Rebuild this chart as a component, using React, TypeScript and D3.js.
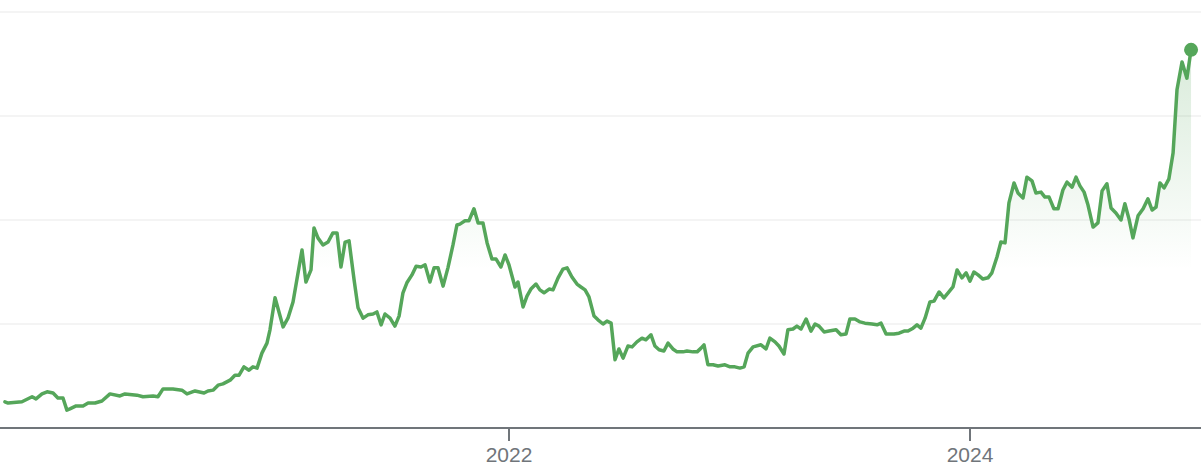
import React, { useEffect, useRef } from 'react';
import * as d3 from 'd3';

// x positions as decimal years (grid = 25 units)
const times = [
  2019.813, 2019.827, 2019.887, 2019.931, 2019.948, 2019.974, 2019.996, 2020.022, 2020.043, 2020.065,
  2020.082, 2020.095, 2020.122, 2020.152, 2020.174, 2020.204, 2020.234, 2020.269, 2020.312, 2020.334,
  2020.386, 2020.412, 2020.456, 2020.477, 2020.499, 2020.542, 2020.581, 2020.603, 2020.638, 2020.677,
  2020.694, 2020.716, 2020.738, 2020.759, 2020.790, 2020.811, 2020.829, 2020.850, 2020.872, 2020.889,
  2020.907, 2020.928, 2020.950, 2020.963, 2020.985, 2021.020, 2021.041, 2021.063, 2021.102, 2021.119,
  2021.141, 2021.154, 2021.171, 2021.193, 2021.215, 2021.236, 2021.254, 2021.271, 2021.289, 2021.306,
  2021.328, 2021.345, 2021.367, 2021.388, 2021.410, 2021.427, 2021.445, 2021.462, 2021.484, 2021.505,
  2021.523, 2021.540, 2021.557, 2021.579, 2021.597, 2021.618, 2021.636, 2021.657, 2021.675, 2021.692,
  2021.714, 2021.735, 2021.757, 2021.774, 2021.787, 2021.809, 2021.826, 2021.848, 2021.866, 2021.887,
  2021.905, 2021.926, 2021.944, 2021.965, 2021.983, 2022.000, 2022.026, 2022.039, 2022.061, 2022.078,
  2022.095, 2022.117, 2022.134, 2022.152, 2022.174, 2022.191, 2022.213, 2022.234, 2022.252, 2022.273,
  2022.295, 2022.312, 2022.330, 2022.347, 2022.369, 2022.386, 2022.408, 2022.425, 2022.443, 2022.460,
  2022.477, 2022.495, 2022.516, 2022.534, 2022.555, 2022.577, 2022.594, 2022.616, 2022.633, 2022.651,
  2022.672, 2022.690, 2022.711, 2022.729, 2022.755, 2022.772, 2022.798, 2022.816, 2022.833, 2022.846,
  2022.863, 2022.885, 2022.907, 2022.937, 2022.959, 2022.980, 2023.002, 2023.020, 2023.037, 2023.059,
  2023.093, 2023.115, 2023.132, 2023.154, 2023.171, 2023.193, 2023.210, 2023.232, 2023.249, 2023.267,
  2023.289, 2023.310, 2023.328, 2023.345, 2023.367, 2023.388, 2023.419, 2023.440, 2023.462, 2023.479,
  2023.501, 2023.523, 2023.544, 2023.575, 2023.597, 2023.614, 2023.636, 2023.670, 2023.692, 2023.714,
  2023.731, 2023.753, 2023.770, 2023.787, 2023.805, 2023.826, 2023.844, 2023.866, 2023.887, 2023.905,
  2023.926, 2023.944, 2023.965, 2023.983, 2024.000, 2024.017, 2024.035, 2024.056, 2024.078, 2024.095,
  2024.117, 2024.134, 2024.152, 2024.169, 2024.191, 2024.208, 2024.230, 2024.247, 2024.269, 2024.286,
  2024.308, 2024.325, 2024.343, 2024.364, 2024.382, 2024.403, 2024.421, 2024.443, 2024.460, 2024.477,
  2024.495, 2024.512, 2024.534, 2024.555, 2024.573, 2024.594, 2024.612, 2024.633, 2024.655, 2024.672,
  2024.690, 2024.707, 2024.729, 2024.751, 2024.772, 2024.790, 2024.807, 2024.824, 2024.842, 2024.863,
  2024.881, 2024.898, 2024.920, 2024.941, 2024.959,
];

const closes = [
  6.3, 6.0, 6.3, 7.5, 7.0, 8.2, 8.7, 8.4, 7.2, 7.2,
  4.3, 4.6, 5.3, 5.3, 6.0, 6.0, 6.5, 8.2, 7.7, 8.2,
  7.9, 7.5, 7.7, 7.5, 9.4, 9.4, 9.1, 8.2, 8.9, 8.4,
  8.9, 9.1, 10.3, 10.6, 11.5, 12.7, 12.7, 14.7, 13.9, 14.7,
  14.4, 18.0, 20.4, 23.6, 31.3, 24.3, 26.4, 30.3, 42.8, 35.1,
  38.0, 48.1, 45.7, 44.0, 44.7, 46.9, 46.9, 38.7, 44.7, 45.0,
  35.6, 28.9, 26.4, 27.2, 27.4, 27.9, 24.8, 27.4, 26.4, 24.5,
  26.9, 32.5, 34.9, 36.8, 38.9, 38.7, 39.2, 35.1, 38.5, 38.5,
  34.1, 38.5, 44.0, 48.8, 49.0, 49.8, 49.8, 52.7, 49.3, 49.3,
  44.5, 40.6, 40.6, 38.7, 41.6, 39.2, 33.9, 35.1, 29.1, 31.7,
  33.4, 34.6, 33.2, 32.5, 33.4, 33.2, 36.1, 38.2, 38.5, 36.3,
  34.6, 33.9, 33.2, 31.5, 26.9, 26.0, 25.0, 25.7, 25.2, 16.4,
  19.0, 16.8, 19.7, 19.5, 20.7, 21.6, 21.2, 22.4, 19.7, 18.8,
  18.5, 20.4, 19.0, 18.3, 18.3, 18.5, 18.3, 18.3, 19.2, 20.0,
  15.2, 15.2, 14.9, 15.2, 14.7, 14.7, 14.4, 14.7, 18.0, 19.5,
  20.0, 19.0, 21.6, 20.7, 19.7, 17.8, 23.6, 23.8, 24.5, 23.8,
  26.2, 23.3, 25.0, 24.5, 23.1, 23.3, 23.6, 22.4, 22.6, 26.2,
  26.2, 25.5, 25.2, 25.0, 24.8, 25.2, 22.6, 22.6, 22.8, 23.3,
  23.3, 24.0, 24.8, 24.0, 26.4, 30.3, 30.5, 32.7, 31.3, 32.5,
  33.9, 38.0, 36.1, 37.3, 35.3, 37.5, 36.8, 35.8, 36.1, 37.3,
  41.1, 44.7, 44.5, 54.1, 58.9, 56.5, 55.3, 60.3, 59.4, 56.5,
  56.7, 55.5, 55.5, 52.7, 52.7, 57.2, 59.1, 57.9, 60.3, 58.2,
  56.7, 53.6, 48.3, 49.3, 57.0, 58.7, 52.9, 51.7, 50.0, 53.9,
  50.2, 45.7, 51.0, 52.7, 55.1, 52.4, 53.1, 58.9, 57.7, 59.9,
  66.1, 81.3, 88.0, 84.1, 90.9,
];

const gridValues = [25, 50, 75, 100];
const yearTicks = [2022, 2024];

const WIDTH = 1204;
const HEIGHT = 476;
const LINE_COLOR = '#55a65a';

const App: React.FC = () => {
  const svgRef = useRef<SVGSVGElement>(null);

  useEffect(() => {
    if (!svgRef.current) return;
    const svg = d3.select(svgRef.current);
    svg.selectAll('*').remove();

    const x = d3.scaleLinear().domain([2022, 2024]).range([509, 970]);
    const y = d3.scaleLinear().domain([0, 100]).range([428, 12]);

    const data = times.map((t, i) => ({ t, v: closes[i] }));

    // gridlines
    svg.append('g')
      .selectAll('line')
      .data(gridValues)
      .join('line')
      .attr('x1', 0).attr('x2', 1201)
      .attr('y1', d => y(d)).attr('y2', d => y(d))
      .attr('stroke', '#f1f1f1')
      .attr('stroke-width', 1.5);

    // area gradient
    const defs = svg.append('defs');
    const grad = defs.append('linearGradient')
      .attr('id', 'areaFade')
      .attr('gradientUnits', 'userSpaceOnUse')
      .attr('x1', 0).attr('x2', 0)
      .attr('y1', y(90)).attr('y2', y(38));
    grad.append('stop').attr('offset', '0%').attr('stop-color', LINE_COLOR).attr('stop-opacity', 0.22);
    grad.append('stop').attr('offset', '100%').attr('stop-color', LINE_COLOR).attr('stop-opacity', 0);

    const area = d3.area<{ t: number; v: number }>()
      .x(d => x(d.t))
      .y0(y(0))
      .y1(d => y(d.v));

    svg.append('path')
      .attr('d', area(data) || '')
      .attr('fill', 'url(#areaFade)');

    // x axis
    svg.append('line')
      .attr('x1', 0).attr('x2', 1201)
      .attr('y1', y(0)).attr('y2', y(0))
      .attr('stroke', '#70757a')
      .attr('stroke-width', 2);

    const ticks = svg.append('g').selectAll('g').data(yearTicks).join('g');
    ticks.append('line')
      .attr('x1', d => x(d)).attr('x2', d => x(d))
      .attr('y1', y(0)).attr('y2', y(0) + 13)
      .attr('stroke', '#70757a')
      .attr('stroke-width', 2);
    ticks.append('text')
      .attr('x', d => x(d))
      .attr('y', 462)
      .attr('text-anchor', 'middle')
      .attr('font-family', 'Arial, "Liberation Sans", sans-serif')
      .attr('font-size', 21)
      .attr('fill', '#70757a')
      .text(d => String(d));

    // price line
    const line = d3.line<{ t: number; v: number }>()
      .x(d => x(d.t))
      .y(d => y(d.v));

    svg.append('path')
      .attr('d', line(data) || '')
      .attr('fill', 'none')
      .attr('stroke', LINE_COLOR)
      .attr('stroke-width', 3.5)
      .attr('stroke-linejoin', 'round')
      .attr('stroke-linecap', 'round');

    const last = data[data.length - 1];
    svg.append('circle')
      .attr('cx', x(last.t))
      .attr('cy', y(last.v))
      .attr('r', 7)
      .attr('fill', LINE_COLOR);
  }, []);

  return (
    <div style={{ position: 'absolute', left: 0, top: 0, width: WIDTH, height: HEIGHT, background: '#fff' }}>
      <svg ref={svgRef} width={WIDTH} height={HEIGHT} style={{ display: 'block' }} />
    </div>
  );
};

export default App;
